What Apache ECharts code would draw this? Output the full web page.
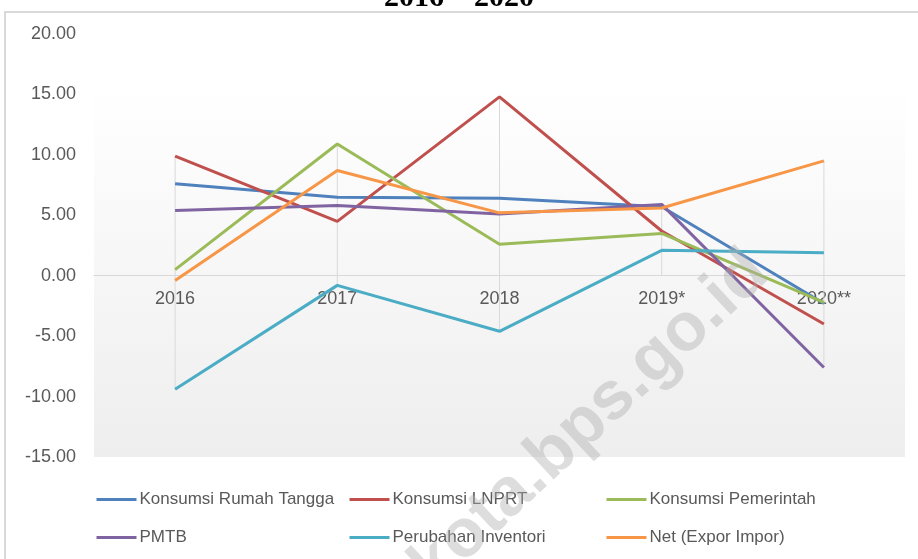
<!DOCTYPE html>
<html>
    <head>
        <meta charset="UTF-8" />
        <title>Laju Pertumbuhan PDRB menurut Pengeluaran</title>
        <style>
            html,
            body {
                margin: 0;
                padding: 0;
                background: #ffffff;
            }
            #chart {
                width: 918px;
                height: 559px;
            }
        </style>
    </head>
    <body>
        <div id="chart"></div>
        <script src="https://cdn.jsdelivr.net/npm/echarts@6/dist/echarts.min.js"></script>
        <script>
            const years = ["2016", "2017", "2018", "2019*", "2020**"];
            const rumahTangga = [7.6, 6.5, 6.4, 5.7, -2.3];
            const lnprt = [9.9, 4.5, 14.8, 3.7, -4.0];
            const pemerintah = [0.5, 10.9, 2.6, 3.5, -2.2];
            const pmtb = [5.4, 5.8, 5.1, 5.9, -7.6];
            const inventori = [-9.4, -0.8, -4.6, 2.1, 1.9];
            const netEkspor = [-0.4, 8.7, 5.2, 5.6, 9.5];
            const yTicks = [-15, -10, -5, 0, 5, 10, 15, 20];

            const seriesDefs = [
                ["Konsumsi Rumah Tangga", rumahTangga, "#4f81bd"],
                ["Konsumsi LNPRT", lnprt, "#c0504d"],
                ["Konsumsi Pemerintah", pemerintah, "#9bbb59"],
                ["PMTB", pmtb, "#8064a2"],
                ["Perubahan Inventori", inventori, "#4bacc6"],
                ["Net (Expor Impor)", netEkspor, "#f79646"],
            ];

            // drop lines: from the highest/lowest point of each year to the zero axis
            const dropData = years.map((y, i) => {
                const vals = seriesDefs.map((s) => s[1][i]);
                return [i, Math.min(0, ...vals), Math.max(0, ...vals)];
            });

            const legendPos = [
                [95, 491],
                [348, 491],
                [605, 491],
                [95, 529],
                [348, 529],
                [605, 529],
            ];

            const chart = echarts.init(document.getElementById("chart"));
            const font = "'Liberation Sans', Arial, sans-serif";

            const gridTop = 34;
            const gridBottom = 102;
            const plotH = 559 - gridTop - gridBottom;
            const yMin = yTicks[0];
            const yMax = yTicks[yTicks.length - 1];
            // category axis sits on the zero line, labels just below it
            const zeroOffset = -(plotH * (0 - yMin)) / (yMax - yMin);

            const option = {
                animation: false,
                title: {
                    text: "2016 – 2020",
                    left: "center",
                    top: -22,
                    textStyle: { fontFamily: "'Liberation Serif', serif", fontSize: 30, fontWeight: "bold", color: "#000" },
                },
                grid: {
                    left: 94,
                    right: 13,
                    top: gridTop,
                    bottom: gridBottom,
                    show: true,
                    borderWidth: 0,
                    backgroundColor: new echarts.graphic.LinearGradient(0, 0, 0, 1, [
                        { offset: 0, color: "#ffffff" },
                        { offset: 0.12, color: "#ffffff" },
                        { offset: 1, color: "#eeeeee" },
                    ]),
                },
                legend: seriesDefs.map((s, i) => ({
                    data: [s[0]],
                    left: legendPos[i][0],
                    top: legendPos[i][1],
                    itemWidth: 40,
                    itemHeight: 3,
                    itemGap: 0,
                    padding: 0,
                    lineStyle: { width: 3 },
                    textStyle: { fontFamily: font, fontSize: 17, color: "#595959", padding: [0, 0, 0, -2] },
                })),
                xAxis: {
                    type: "category",
                    data: years,
                    boundaryGap: true,
                    offset: zeroOffset,
                    axisLine: { onZero: false, lineStyle: { color: "#d9d9d9", width: 1 } },
                    axisTick: { show: false },
                    axisLabel: { fontFamily: font, fontSize: 18, color: "#595959", margin: 14 },
                    splitLine: { show: false },
                },
                yAxis: {
                    type: "value",
                    min: yMin,
                    max: yMax,
                    interval: 5,
                    axisLine: { show: false },
                    axisTick: { show: false },
                    splitLine: { show: false },
                    axisLabel: {
                        fontFamily: font,
                        fontSize: 18,
                        color: "#595959",
                        margin: 18,
                        formatter: (v) => v.toFixed(2),
                    },
                },
                graphic: [
                    {
                        type: "rect",
                        shape: { x: 5, y: 12, width: 930, height: 600 },
                        style: { fill: "none", stroke: "#d9d9d9", lineWidth: 2 },
                        z: -10,
                    },
                    {
                        type: "text",
                        x: 590,
                        y: 420,
                        rotation: 0.75,
                        z: 100,
                        style: {
                            text: "kota.bps.go.id",
                            font: "bold 68px 'Liberation Sans', Arial, sans-serif",
                            fill: "rgba(175,175,175,0.42)",
                            align: "center",
                            verticalAlign: "middle",
                        },
                    },
                ],
                series: [
                    {
                        type: "custom",
                        silent: true,
                        z: 1,
                        data: dropData,
                        renderItem: (params, api) => {
                            const p1 = api.coord([api.value(0), api.value(1)]);
                            const p2 = api.coord([api.value(0), api.value(2)]);
                            return {
                                type: "line",
                                shape: { x1: p1[0], y1: p1[1], x2: p2[0], y2: p2[1] },
                                style: { stroke: "#d9d9d9", lineWidth: 1 },
                            };
                        },
                    },
                ].concat(
                    seriesDefs.map((s) => ({
                        name: s[0],
                        type: "line",
                        data: s[1],
                        symbol: "none",
                        z: 3,
                        lineStyle: { color: s[2], width: 3 },
                        itemStyle: { color: s[2] },
                    }))
                ),
            };
            chart.setOption(option);
        </script>
    </body>
</html>
